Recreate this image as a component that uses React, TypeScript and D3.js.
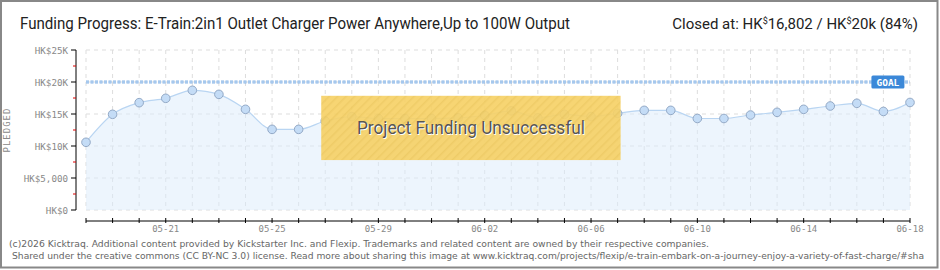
import React from 'react'
import * as d3 from 'd3'

const W = 940
const H = 270

const margin = { top: 50, right: 30, bottom: 60, left: 86 }

// daily pledged totals, 05-18 .. 06-18
const dates = [
  '05-18', '05-19', '05-20', '05-21', '05-22', '05-23', '05-24', '05-25',
  '05-26', '05-27', '05-28', '05-29', '05-30', '05-31', '06-01', '06-02',
  '06-03', '06-04', '06-05', '06-06', '06-07', '06-08', '06-09', '06-10',
  '06-11', '06-12', '06-13', '06-14', '06-15', '06-16', '06-17', '06-18',
]
const pledged = [
  10580, 14950, 16770, 17450, 18700, 18070, 15730, 12600,
  12600, 13900, 14600, 14300, 14300, 14300, 14400, 14800,
  15500, 14400, 14950, 14600, 15100, 15570, 15570, 14300,
  14300, 14840, 15260, 15730, 16250, 16670, 15400, 16802,
]
const goal = 20000
const yTicks = [0, 5000, 10000, 15000, 20000, 25000]
const yTickLabels = ['HK$0', 'HK$5,000', 'HK$10K', 'HK$15K', 'HK$20K', 'HK$25K']
const xLabelEvery = 4
const xLabelOffset = 3

const axisFont = '"DejaVu Sans Mono", monospace'
const titleFont = '"Liberation Sans Narrow", "Roboto", sans-serif'
const footFont = '"DejaVu Sans", sans-serif'

const App = () => {
  const plotW = W - margin.left - margin.right
  const plotH = H - margin.top - margin.bottom

  const xScale = d3.scalePoint<string>().domain(dates).range([0, plotW])
  const yScale = d3.scaleLinear().domain([0, 25000]).range([plotH, 0])

  const data = dates.map((d, i) => ({ d, v: pledged[i] }))

  const area = d3.area<{ d: string; v: number }>()
    .x(p => xScale(p.d)!)
    .y0(plotH)
    .y1(p => yScale(p.v))
    .curve(d3.curveMonotoneX)
  const line = d3.line<{ d: string; v: number }>()
    .x(p => xScale(p.d)!)
    .y(p => yScale(p.v))
    .curve(d3.curveMonotoneX)

  const minorTicks = d3.range(2500, 25000, 5000)
  const gy = yScale(goal)

  // failure banner
  const bx = xScale('05-27')! - 4
  const bw = xScale('06-07')! - bx + 3
  const by = yScale(18000) + 1
  const bh = yScale(7800) - by

  return (
    <svg width={W} height={H} style={{ position: 'absolute', left: 0, top: 0 }}>
      <defs>
        <pattern id="hatch" width={6} height={6} patternUnits="userSpaceOnUse" patternTransform="rotate(45)">
          <rect width={6} height={6} fill="#f6d167" />
          <line x1={0} y1={0} x2={0} y2={6} stroke="#eec85a" strokeWidth={3} />
        </pattern>
      </defs>
      <rect x={0} y={0} width={W} height={H} fill="#fff" />

      <text x={20} y={29} fontFamily={titleFont} fontSize={16} fill="#222" textLength={550} lengthAdjust="spacingAndGlyphs">
        Funding Progress: E-Train:2in1 Outlet Charger Power Anywhere,Up to 100W Output
      </text>
      <text x={918} y={29} fontFamily={titleFont} fontSize={15} fill="#222" textAnchor="end">
        Closed at:  HK<tspan fontSize={9} baselineShift="super">$</tspan>16,802 / HK<tspan fontSize={9} baselineShift="super">$</tspan>20k (84%)
      </text>

      <text transform="translate(10,130) rotate(-90)" fontFamily={axisFont} fontSize={9} fill="#888" textAnchor="middle" letterSpacing={1}>
        PLEDGED
      </text>

      <g transform={`translate(${margin.left},${margin.top})`}>
        {/* grid */}
        {dates.map(d => (
          <line key={d} x1={xScale(d)} x2={xScale(d)} y1={0} y2={plotH} stroke="#ddd" strokeDasharray="4,4" />
        ))}
        {yTicks.map(t => (
          <line key={t} x1={0} x2={plotW} y1={yScale(t)} y2={yScale(t)} stroke="#ddd" strokeDasharray="4,4" />
        ))}

        <path d={area(data)!} fill="#dcebfb" fillOpacity={0.5} />
        <path d={line(data)!} fill="none" stroke="#b9d5f2" strokeWidth={1.2} />

        {/* goal */}
        <line x1={0} x2={plotW} y1={gy} y2={gy} stroke="#86b4e6" strokeWidth={3} strokeDasharray="3,1.5" />
        <line x1={0} x2={plotW} y1={gy} y2={gy} stroke="#c5dcf5" strokeWidth={1} strokeDasharray="3,1.5" />

        {data.map(p => (
          <circle key={p.d} cx={xScale(p.d)} cy={yScale(p.v)} r={4.3} fill="#c4dcf6" stroke="#93a9c6" strokeWidth={1} />
        ))}

        <g transform={`translate(${xScale('06-17')! - 12},${gy})`}>
          <rect x={0} y={-6.5} width={33} height={13} rx={1.5} fill="#3b88d8" />
          <text x={16.5} y={3.5} fontFamily={axisFont} fontSize={9.5} fill="#fff" textAnchor="middle" fontWeight="bold">GOAL</text>
        </g>

        {/* banner */}
        <rect x={bx} y={by} width={bw} height={bh} fill="url(#hatch)" opacity={0.92} />
        <text x={bx + bw / 2 + 1} y={by + bh / 2 + 7} fontFamily={titleFont} fontSize={18} fill="#fff" textAnchor="middle" textLength={228} lengthAdjust="spacingAndGlyphs">
          Project Funding Unsuccessful
        </text>
        <text x={bx + bw / 2} y={by + bh / 2 + 6} fontFamily={titleFont} fontSize={18} fill="#555" textAnchor="middle" textLength={228} lengthAdjust="spacingAndGlyphs">
          Project Funding Unsuccessful
        </text>

        {/* y axis */}
        <line x1={-10} x2={-10} y1={0} y2={plotH} stroke="#000" />
        {yTicks.map((t, i) => (
          <g key={t}>
            <line x1={-15} x2={-10} y1={yScale(t)} y2={yScale(t)} stroke="#000" />
            <text x={-18} y={yScale(t) + 3.5} fontFamily={axisFont} fontSize={9.2} fill="#888" textAnchor="end">
              {yTickLabels[i]}
            </text>
          </g>
        ))}
        {minorTicks.map(t => (
          <line key={t} x1={-13} x2={-10} y1={yScale(t)} y2={yScale(t)} stroke="#d00" />
        ))}

        {/* x axis */}
        <line x1={0} x2={plotW} y1={plotH + 11} y2={plotH + 11} stroke="#000" />
        {dates.map((d, i) => (
          <g key={d}>
            <line x1={xScale(d)} x2={xScale(d)} y1={plotH + 8} y2={plotH + 13} stroke="#000" />
            {(i - xLabelOffset) % xLabelEvery === 0 && i >= xLabelOffset ? (
              <text x={xScale(d)} y={plotH + 22} fontFamily={axisFont} fontSize={9} fill="#888" textAnchor="middle">{d}</text>
            ) : null}
          </g>
        ))}
      </g>

      <text x={9} y={247} fontFamily={footFont} fontSize={9.4} fill="#666" textLength={700} lengthAdjust="spacingAndGlyphs">
        (c)2026 Kicktraq. Additional content provided by Kickstarter Inc. and Flexip. Trademarks and related content are owned by their respective companies.
      </text>
      <text x={12} y={259} fontFamily={footFont} fontSize={9.2} fill="#666" textLength={912} lengthAdjust="spacingAndGlyphs">
        Shared under the creative commons (CC BY-NC 3.0) license. Read more about sharing this image at www.kicktraq.com/projects/flexip/e-train-embark-on-a-journey-enjoy-a-variety-of-fast-charge/#sha
      </text>

      <rect x={1} y={1} width={936.5} height={266.5} fill="none" stroke="#888" strokeWidth={2} />
    </svg>
  )
}

export default App
